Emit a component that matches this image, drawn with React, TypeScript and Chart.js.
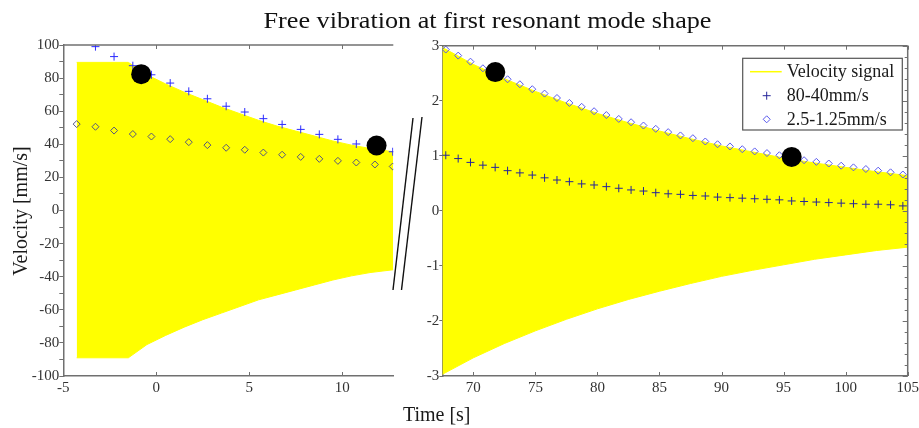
import React, { useEffect, useRef } from 'react';
import { Chart, registerables } from 'chart.js';

Chart.register(...registerables);

// ---------------- data ----------------
// Left panel (t = -5 .. 12.75 s), velocity in mm/s
const leftEnvT = [-4.28, -1.5, -0.5, 0.5, 1.5, 2.5, 3.5, 4.5, 5.5, 6.5, 7.5, 8.5, 9.5, 10.5, 11.5, 12.75];
const leftEnvUpper = [89.5, 89.5, 82, 76.5, 71.5, 67, 62.5, 58.5, 54.5, 51, 48, 45, 42, 39.5, 37.5, 35.5];
const leftEnvLower = [-89, -89, -81, -75.5, -70.5, -66, -62, -58, -54, -51, -48, -45, -42, -39.5, -37.5, -35.8];
const leftMarkT = [-4.28, -3.27, -2.27, -1.26, -0.26, 0.75, 1.75, 2.75, 3.76, 4.76, 5.76, 6.77, 7.77, 8.77, 9.77, 10.76, 11.76, 12.72];
const left8040 = [null, 99, 93, 87.5, 82, 77, 72, 67.5, 63, 59.5, 55.5, 52, 49, 46, 43, 40.2, 37.8, 35.5];
const left2512 = [52.2, 50.6, 48.3, 46.2, 44.7, 43.1, 41.3, 39.5, 37.9, 36.7, 35.0, 33.7, 32.4, 31.2, 30.0, 29.0, 27.8, 26.6];
const leftDotT = [-0.81, 11.85];
const leftDotV = [82.4, 39.3];

// Right panel (t = 67.5 .. 105 s)
const rightEnvT = [67.5, 70, 72.5, 75, 77.5, 80, 82.5, 85, 87.5, 90, 92.5, 95, 97.5, 100, 102.5, 105];
const rightEnvUpper = [2.97, 2.66, 2.4, 2.17, 1.96, 1.77, 1.6, 1.45, 1.31, 1.18, 1.07, 0.96, 0.87, 0.79, 0.71, 0.64];
const rightEnvLower = [-2.97, -2.67, -2.41, -2.18, -1.97, -1.78, -1.61, -1.46, -1.32, -1.19, -1.08, -0.98, -0.88, -0.8, -0.72, -0.66];
const rightMarkT = [
  67.78, 68.78, 69.77, 70.77, 71.76, 72.76, 73.75, 74.75, 75.74, 76.74,
  77.74, 78.73, 79.73, 80.72, 81.72, 82.71, 83.71, 84.7, 85.7, 86.69,
  87.69, 88.69, 89.68, 90.68, 91.67, 92.67, 93.66, 94.66, 95.65, 96.65,
  97.64, 98.64, 99.64, 100.63, 101.63, 102.62, 103.62, 104.61,
];
const right2512 = [
  2.93, 2.82, 2.71, 2.59, 2.48, 2.39, 2.3, 2.21, 2.13, 2.05,
  1.96, 1.89, 1.81, 1.74, 1.67, 1.61, 1.55, 1.49, 1.43, 1.37,
  1.32, 1.26, 1.21, 1.17, 1.12, 1.08, 1.05, 1.01, 0.97, 0.92,
  0.89, 0.86, 0.82, 0.79, 0.76, 0.73, 0.7, 0.66,
];
const right8040 = [
  1.01, 0.95, 0.88, 0.83, 0.79, 0.73, 0.69, 0.65, 0.6, 0.56,
  0.53, 0.49, 0.47, 0.44, 0.41, 0.38, 0.36, 0.33, 0.31, 0.3,
  0.28, 0.27, 0.25, 0.24, 0.23, 0.22, 0.21, 0.2, 0.18, 0.17,
  0.16, 0.15, 0.14, 0.13, 0.12, 0.12, 0.11, 0.09,
];
const rightDotT = [71.77, 95.65];
const rightDotV = [2.52, 0.98];

const TITLE = 'Free vibration at first resonant mode shape';
const Y_LABEL = 'Velocity [mm/s]';
const X_LABEL = 'Time [s]';
const LABEL_SIGNAL = 'Velocity signal';
const LABEL_8040 = '80-40mm/s';
const LABEL_2512 = '2.5-1.25mm/s';

// ---------------- styles ----------------
const FONT = "'Liberation Serif', 'Times New Roman', serif";
const YELLOW = '#ffff00';
const AXIS = '#707070';
const TXT = '#333333';

const toXY = (xs: number[], ys: (number | null)[]) => xs.map((x, i) => ({ x, y: ys[i] }));

const framePlugin = {
  id: 'frameDeco',
  afterDraw(chart: any, _args: any, opts: any) {
    const { ctx, chartArea: a, scales } = chart;
    const x = scales.x;
    ctx.save();
    ctx.strokeStyle = AXIS;
    ctx.lineWidth = 1.5;
    ctx.beginPath();
    ctx.moveTo(a.left, a.top);
    ctx.lineTo(a.right, a.top);
    if (opts && opts.right) {
      ctx.moveTo(a.right, a.top);
      ctx.lineTo(a.right, a.bottom);
    }
    ctx.stroke();
    ctx.lineWidth = 1;
    ctx.beginPath();
    for (const t of x.ticks) {
      const px = Math.round(x.getPixelForValue(t.value)) + 0.5;
      ctx.moveTo(px, a.top);
      ctx.lineTo(px, a.top + 4);
      ctx.moveTo(px, a.bottom);
      ctx.lineTo(px, a.bottom - 4);
    }
    if (opts && opts.right && scales.y2) {
      for (const t of scales.y2.ticks) {
        const py = Math.round(scales.y2.getPixelForValue(t.value)) + 0.5;
        const major = Math.abs(t.value - Math.round(t.value)) < 1e-6;
        ctx.moveTo(a.right, py);
        ctx.lineTo(a.right - (major ? 5 : 3), py);
      }
    }
    ctx.stroke();
    ctx.restore();
  },
};

const legendPlugin = {
  id: 'boxLegend',
  afterDraw(chart: any, _args: any, opts: any) {
    if (!opts || !opts.show) return;
    const { ctx, chartArea: a } = chart;
    const items = chart.data.datasets.filter((d: any) => d.inLegend);
    const w = 159.6;
    const h = 71.7;
    const left = a.right - 5.4 - w;
    const top = a.top + 12.6;
    const rows = [13.4, 37.4, 61];
    ctx.save();
    ctx.fillStyle = '#ffffff';
    ctx.fillRect(left, top, w, h);
    ctx.strokeStyle = '#555555';
    ctx.lineWidth = 1.2;
    ctx.strokeRect(left, top, w, h);
    ctx.font = `18px ${FONT}`;
    ctx.textBaseline = 'middle';
    ctx.textAlign = 'left';
    items.forEach((d: any, i: number) => {
      const cy = top + rows[i];
      const cx = left + 24;
      if (d.legendKind === 'line') {
        ctx.strokeStyle = d.backgroundColor;
        ctx.lineWidth = 1.5;
        ctx.beginPath();
        ctx.moveTo(left + 7.3, cy);
        ctx.lineTo(left + 39, cy);
        ctx.stroke();
      } else if (d.legendKind === 'cross') {
        ctx.strokeStyle = d.legendColor;
        ctx.lineWidth = 1;
        ctx.beginPath();
        ctx.moveTo(cx - 4, cy);
        ctx.lineTo(cx + 4, cy);
        ctx.moveTo(cx, cy - 4);
        ctx.lineTo(cx, cy + 4);
        ctx.stroke();
      } else if (d.legendKind === 'diamond') {
        ctx.strokeStyle = d.legendColor;
        ctx.lineWidth = 1;
        ctx.beginPath();
        ctx.moveTo(cx, cy - 3.5);
        ctx.lineTo(cx + 3.5, cy);
        ctx.lineTo(cx, cy + 3.5);
        ctx.lineTo(cx - 3.5, cy);
        ctx.closePath();
        ctx.stroke();
      }
      ctx.fillStyle = '#1a1a1a';
      ctx.fillText(d.label, left + 44, cy + 1);
    });
    ctx.restore();
  },
};

function envelopeSets(t: number[], up: number[], low: number[], withLegend: boolean) {
  return [
    {
      label: LABEL_SIGNAL,
      data: toXY(t, up),
      borderColor: YELLOW,
      backgroundColor: YELLOW,
      borderWidth: 1,
      pointRadius: 0,
      fill: '+1',
      tension: 0,
      order: 10,
      inLegend: withLegend,
      legendKind: 'line',
    },
    {
      label: 'lower',
      data: toXY(t, low),
      borderColor: YELLOW,
      backgroundColor: YELLOW,
      borderWidth: 1,
      pointRadius: 0,
      fill: false,
      tension: 0,
      order: 11,
    },
  ];
}

function markerSet(label: string, t: number[], v: (number | null)[], style: string, color: string, radius: number, withLegend: boolean) {
  return {
    label,
    data: toXY(t, v),
    showLine: false,
    pointStyle: style,
    pointRadius: radius,
    pointBorderWidth: 1,
    pointBorderColor: color,
    pointBackgroundColor: 'rgba(0,0,0,0)',
    borderColor: color,
    order: 2,
    inLegend: withLegend,
    legendKind: style === 'cross' ? 'cross' : 'diamond',
    legendColor: color,
  };
}

function dotSet(t: number[], v: number[]) {
  return {
    label: 'markers',
    data: toXY(t, v),
    showLine: false,
    pointStyle: 'circle',
    pointRadius: 10,
    pointBorderWidth: 0,
    pointBackgroundColor: '#000000',
    pointBorderColor: '#000000',
    order: 0,
  };
}

const tickFont = { family: FONT, size: 15 };

function baseX(min: number, max: number) {
  return {
    type: 'linear',
    min,
    max,
    afterFit(s: any) {
      s.height = 24;
      s.paddingLeft = 0;
      s.paddingRight = 0;
    },
    grid: { display: false, drawTicks: false },
    border: { display: true, color: AXIS, width: 1.5 },
    ticks: { stepSize: 5, includeBounds: false, padding: 3, color: TXT, font: tickFont, maxRotation: 0, autoSkip: false },
  };
}

export default function App() {
  const leftRef = useRef<HTMLCanvasElement>(null);
  const rightRef = useRef<HTMLCanvasElement>(null);

  useEffect(() => {
    const left = new Chart(leftRef.current as HTMLCanvasElement, {
      type: 'line',
      data: {
        datasets: [
          ...envelopeSets(leftEnvT, leftEnvUpper, leftEnvLower, false),
          markerSet(LABEL_8040, leftMarkT, left8040, 'cross', '#2b2bff', 4, false),
          markerSet(LABEL_2512, leftMarkT, left2512, 'rectRot', '#55557e', 3.5, false),
          dotSet(leftDotT, leftDotV),
        ] as any,
      },
      options: {
        responsive: false,
        animation: false,
        events: [],
        layout: { autoPadding: false, padding: { left: 0, top: 45, right: 6.7, bottom: 0 } },
        plugins: { legend: { display: false }, tooltip: { enabled: false }, frameDeco: { right: false } } as any,
        scales: {
          x: baseX(-5, 12.75) as any,
          y: {
            type: 'linear',
            min: -100,
            max: 100,
            afterFit(s: any) {
              s.width = 63.3;
              s.paddingTop = 0;
              s.paddingBottom = 0;
            },
            grid: { display: true, drawOnChartArea: false, drawTicks: true, tickLength: 4, color: AXIS },
            border: { display: true, color: AXIS, width: 1.5 },
            ticks: {
              stepSize: 10,
              autoSkip: false,
              padding: 0,
              color: TXT,
              font: tickFont,
              callback: (v: any) => (Math.round(v) % 20 === 0 ? String(v) : ''),
            },
          } as any,
        },
      },
      plugins: [framePlugin],
    });

    const right = new Chart(rightRef.current as HTMLCanvasElement, {
      type: 'line',
      data: {
        datasets: [
          ...envelopeSets(rightEnvT, rightEnvUpper, rightEnvLower, true),
          markerSet(LABEL_8040, rightMarkT, right8040, 'cross', '#25259a', 4, true),
          markerSet(LABEL_2512, rightMarkT, right2512, 'rectRot', '#5a5aee', 3.5, true),
          dotSet(rightDotT, rightDotV),
        ] as any,
      },
      options: {
        responsive: false,
        animation: false,
        events: [],
        layout: { autoPadding: false, padding: { left: 0, top: 45.7, right: 11.3, bottom: 0 } },
        plugins: {
          legend: { display: false },
          tooltip: { enabled: false },
          frameDeco: { right: true },
          boxLegend: { show: true },
        } as any,
        scales: {
          x: baseX(67.5, 105) as any,
          y: {
            type: 'linear',
            min: -3,
            max: 3,
            afterFit(s: any) {
              s.width = 42.3;
              s.paddingTop = 0;
              s.paddingBottom = 0;
            },
            grid: { display: true, drawOnChartArea: false, drawTicks: true, tickLength: 3, color: AXIS },
            border: { display: true, color: AXIS, width: 1.5 },
            ticks: { stepSize: 1, autoSkip: false, padding: 0, color: TXT, font: tickFont },
          } as any,
          y2: {
            type: 'linear',
            position: 'right',
            min: -3,
            max: 3,
            afterFit(s: any) {
              s.width = 0;
              s.paddingTop = 0;
              s.paddingBottom = 0;
            },
            grid: { display: false, drawTicks: false },
            border: { display: false },
            ticks: { stepSize: 0.2, autoSkip: false, display: false },
          } as any,
        },
      },
      plugins: [framePlugin, legendPlugin],
    });

    return () => {
      left.destroy();
      right.destroy();
    };
  }, []);

  return (
    <div style={{ position: 'absolute', left: 0, top: 0, width: 919, height: 428, background: '#ffffff', overflow: 'hidden' }}>
      <canvas ref={leftRef} width={400} height={400} style={{ position: 'absolute', left: 0, top: 0 }} />
      <canvas ref={rightRef} width={519} height={400} style={{ position: 'absolute', left: 400, top: 0 }} />
      <svg width={919} height={428} style={{ position: 'absolute', left: 0, top: 0, pointerEvents: 'none' }}>
        <text x={487.5} y={28.3} textAnchor="middle" fontFamily={FONT} fontSize={24} fill="#111111" textLength={448} lengthAdjust="spacingAndGlyphs">
          {TITLE}
        </text>
        <text transform="translate(27,211) rotate(-90)" textAnchor="middle" fontFamily={FONT} fontSize={20} fill="#1a1a1a">
          {Y_LABEL}
        </text>
        <text x={436.7} y={420.7} textAnchor="middle" fontFamily={FONT} fontSize={20} fill="#1a1a1a">
          {X_LABEL}
        </text>
        <line x1={393} y1={290} x2={413} y2={118} stroke="#111111" strokeWidth={1.4} />
        <line x1={401.5} y1={290} x2={422} y2={117} stroke="#111111" strokeWidth={1.4} />
      </svg>
    </div>
  );
}
